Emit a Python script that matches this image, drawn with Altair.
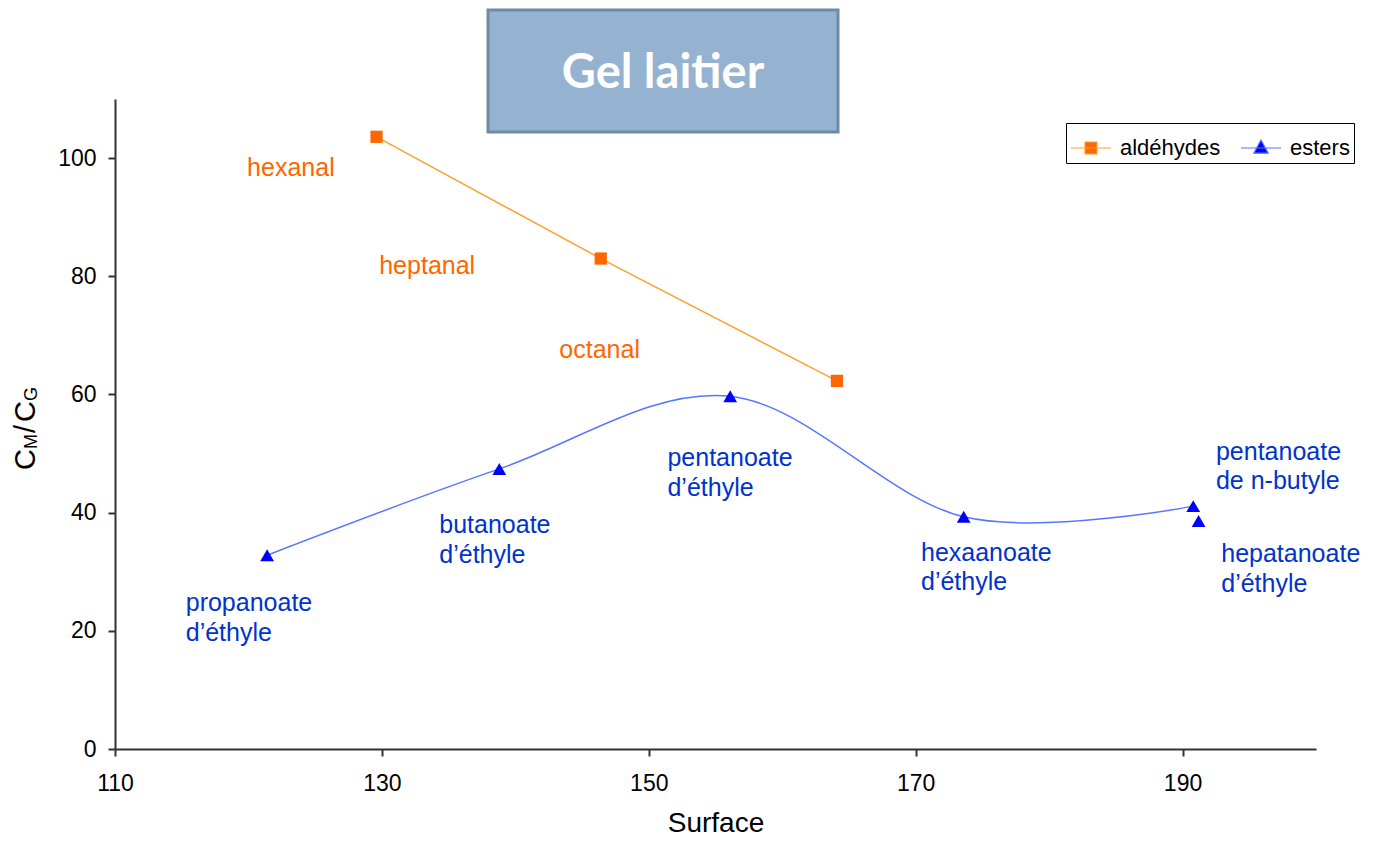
import altair as alt
import pandas as pd

# ---- data ----
ald_names = ["hexanal", "heptanal", "octanal"]
ald_x = [129.6, 146.4, 164.1]
ald_y = [103.6, 83.0, 62.3]

est_names = ["propanoate d’éthyle", "butanoate d’éthyle", "pentanoate d’éthyle",
             "hexaanoate d’éthyle", "pentanoate de n-butyle", "hepatanoate d’éthyle"]
est_x = [121.4, 138.8, 156.1, 173.6, 190.8, 191.2]
est_y = [32.8, 47.4, 59.7, 39.3, 41.1, 38.6]
est_on_line = [True, True, True, True, True, False]

label_text = ["hexanal", "heptanal", "octanal",
              "propanoate\nd’éthyle", "butanoate\nd’éthyle", "pentanoate\nd’éthyle",
              "hexaanoate\nd’éthyle", "pentanoate\nde n-butyle", "hepatanoate\nd’éthyle"]
label_x = [119.9, 129.8, 143.3, 115.3, 134.3, 151.4, 170.4, 192.5, 192.9]
label_y = [98.3, 81.7, 67.5, 24.7, 37.9, 49.2, 33.2, 50.3, 33.0]   # first line
label_series = ["aldéhydes"] * 3 + ["esters"] * 6

series_names = ["aldéhydes", "esters"]
marker_colors = ["#FF6600", "#0000FF"]
line_colors = ["#FFA033", "#5577FF"]
text_colors = ["#FF6600", "#0033CC"]

x_ticks = [110, 130, 150, 170, 190]
y_ticks = [0, 20, 40, 60, 80, 100]

FONT = "Liberation Sans"
W, H = 1201, 650

ald = pd.DataFrame({"name": ald_names, "x": ald_x, "y": ald_y, "series": "aldéhydes"})
est = pd.DataFrame({"name": est_names, "x": est_x, "y": est_y, "series": "esters",
                    "on_line": est_on_line})
pts = pd.concat([ald, est.drop(columns="on_line")], ignore_index=True)
labels = pd.DataFrame({"text": label_text, "x": label_x, "y": label_y, "series": label_series})

xs = alt.Scale(domain=[110, 200], nice=False, zero=False)
ys = alt.Scale(domain=[0, 110], nice=False)

x_axis = alt.Axis(values=x_ticks, grid=False, title="Surface", labelFont=FONT,
                  labelFontSize=23, labelColor="#000", labelPadding=16, labelFlush=False,
                  tickSize=7, tickWidth=2, tickColor="#333", domainColor="#333",
                  domainWidth=2, titleFont=FONT, titleFontSize=28,
                  titleFontWeight="normal", titleColor="#000", titleY=82,
                  titleBaseline="alphabetic")
y_axis = alt.Axis(values=y_ticks, grid=False, title=None, labelFont=FONT,
                  labelFontSize=23, labelColor="#000", labelPadding=12, labelFlush=False,
                  tickSize=7, tickWidth=2, tickColor="#333", domainColor="#333",
                  domainWidth=2)

base_x = alt.X("x:Q", scale=xs, axis=x_axis)
base_y = alt.Y("y:Q", scale=ys, axis=y_axis)

# title box (decoration)
title_df = pd.DataFrame({"t": ["Gel lai\u200ctier"]})
title_box = alt.Chart(title_df).mark_rect(
    fill="#95B3D1", stroke="#6E8BA5", strokeWidth=3
).encode(x=alt.value(373), x2=alt.value(723), y=alt.value(-89), y2=alt.value(33))
title_txt = alt.Chart(title_df).mark_text(
    font="Lato", fontWeight="bold", fontSize=47, color="white",
    align="center", baseline="middle"
).encode(x=alt.value(548), y=alt.value(-25), text="t:N")

line_ald = alt.Chart(ald).mark_line(color=line_colors[0], strokeWidth=1.5).encode(
    x=base_x, y=base_y)
line_est = alt.Chart(est).transform_filter("datum.on_line").mark_line(
    color=line_colors[1], strokeWidth=1.5, interpolate="cardinal"
).encode(x=base_x, y=base_y)

pt_ald = alt.Chart(ald).mark_point(filled=True, size=150, opacity=1, shape="square",
                                   color=marker_colors[0]).encode(x=base_x, y=base_y)
pt_est = alt.Chart(est).mark_point(filled=True, size=190, opacity=1, shape="triangle-up",
                                   color=marker_colors[1]).encode(x=base_x, y=base_y)

# legend-only layer (no marks drawn): symbols = line + marker
sym_paths = ["M-1,0H1M-0.3,-0.3H0.3V0.3H-0.3Z",
             "M-1,0H1M0,-0.4L0.36,0.26H-0.36Z"]


def mk_legend():
    return alt.Legend(
        title=None, orient="none", legendX=951, legendY=24, direction="horizontal",
        labelFont=FONT, labelFontSize=22, labelColor="#000", labelOffset=8,
        columnPadding=17, padding=4, strokeColor="#000", fillColor="white",
        symbolSize=1600, symbolStrokeWidth=1.2,
    )


legend_layer = alt.Chart(pts).transform_filter("datum.x > 1000").mark_point(
    filled=True, size=1600, opacity=1, strokeWidth=1.2
).encode(
    x=alt.X("x:Q", scale=xs), y=alt.Y("y:Q", scale=ys),
    fill=alt.Fill("series:N", scale=alt.Scale(domain=series_names, range=marker_colors),
                  legend=mk_legend()),
    stroke=alt.Stroke("series:N", scale=alt.Scale(domain=series_names, range=line_colors),
                      legend=mk_legend()),
    shape=alt.Shape("series:N", scale=alt.Scale(domain=series_names, range=sym_paths),
                    legend=mk_legend()),
)

text_layer = alt.Chart(labels).mark_text(
    font=FONT, fontSize=25, align="left", baseline="middle", lineBreak="\n",
    lineHeight=29.5
).encode(
    x=alt.X("x:Q", scale=xs), y=alt.Y("y:Q", scale=ys), text="text:N",
    color=alt.Color("series:N", scale=alt.Scale(domain=series_names, range=text_colors),
                    legend=None),
)

# y-axis title C_M / C_G built from text pieces (rotated)
yt_parts = ["C", "M", "/", "C", "G"]
yt_sizes = [29, 18, 29, 29, 18]
yt_pos = [371, 350, 334, 323, 302]
yt_x = [-80, -78, -80, -80, -78]
ytitle = []
for t, s, p, xx in zip(yt_parts, yt_sizes, yt_pos, yt_x):
    ytitle.append(
        alt.Chart(title_df).mark_text(
            text=t, font=FONT, fontSize=s, angle=270, align="left",
            baseline="alphabetic", color="#000"
        ).encode(x=alt.value(xx), y=alt.value(p))
    )

chart = alt.layer(
    title_box, title_txt, line_ald, line_est, pt_ald, pt_est, legend_layer,
    text_layer, *ytitle
).properties(
    width=W, height=H,
    autosize=alt.AutoSizeParams(type="none"),
    padding={"left": 107, "top": 91, "right": 60, "bottom": 88},
    background="white",
).configure_view(strokeWidth=0, stroke=None)

chart.save("out.html", embed_options={"renderer": "svg", "actions": False})
